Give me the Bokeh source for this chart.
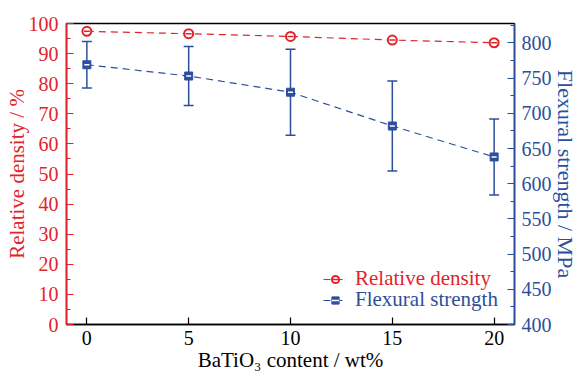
from bokeh.plotting import figure
from bokeh.models import (Range1d, LinearAxis, Whisker, ColumnDataSource, Legend, LegendItem,
                          TeeHead, FixedTicker)
from bokeh.embed import file_html
from bokeh.resources import INLINE

content = [0, 5, 10, 15, 20]
rel_density = [97.4, 96.6, 95.7, 94.5, 93.6]
flex_strength = [769, 753, 730, 682, 638]
flex_err = [33, 42, 61, 64, 54]

RED = "#e3232b"
BLUE = "#2c4f9d"
FONT = "Liberation Serif"

p = figure(width=580, height=376, output_backend="svg", toolbar_location=None,
           x_range=Range1d(-1, 21), y_range=Range1d(0, 100),
           min_border_left=66, min_border_right=63, min_border_top=23, min_border_bottom=52)
p.xgrid.visible = False
p.ygrid.visible = False
p.outline_line_color = "black"
p.outline_line_width = 1.5
p.background_fill_color = "white"
p.border_fill_color = "white"

p.extra_y_ranges = {"fs": Range1d(400, 827.6)}

src_rd = ColumnDataSource(dict(x=content, y=rel_density))
fl_upper = [v + e for v, e in zip(flex_strength, flex_err)]
fl_lower = [v - e for v, e in zip(flex_strength, flex_err)]
src_fs = ColumnDataSource(dict(x=content, y=flex_strength, upper=fl_upper, lower=fl_lower))

# error bars
wh = Whisker(source=src_fs, base="x", upper="upper", lower="lower", y_range_name="fs",
             line_color=BLUE, line_width=1.5,
             upper_head=TeeHead(size=10, line_color=BLUE, line_width=1.5),
             lower_head=TeeHead(size=10, line_color=BLUE, line_width=1.5))
p.add_layout(wh)

# relative density
rd_line = p.line("x", "y", source=src_rd, line_color=RED, line_width=1.2, line_dash="7 5")
rd_circ = p.scatter("x", "y", source=src_rd, marker="circle", size=9, fill_color="white",
                    line_color=RED, line_width=2)
rd_dash = p.scatter("x", "y", source=src_rd, marker="dash", size=6, line_color=RED, line_width=1.5)

# flexural strength
fs_line = p.line("x", "y", source=src_fs, y_range_name="fs", line_color=BLUE, line_width=1.2, line_dash="7 5")
fs_sq = p.scatter("x", "y", source=src_fs, y_range_name="fs", marker="square", size=8,
                  fill_color=BLUE, line_color=BLUE, line_width=1)
fs_dash = p.scatter("x", "y", source=src_fs, y_range_name="fs", marker="dash", size=5,
                    line_color="white", line_width=1.5)

# left axis
ya = p.yaxis[0]
ya.ticker = FixedTicker(ticks=list(range(0, 101, 10)), minor_ticks=list(range(5, 100, 10)))
ya.axis_label = "Relative density / %"
ya.axis_line_color = RED
ya.major_tick_line_color = RED
ya.minor_tick_line_color = RED
ya.major_label_text_color = RED
ya.axis_label_text_color = RED
ya.major_label_standoff = 8
ya.axis_label_standoff = -3
ya.axis_label_text_font_size = "21px"

# right axis
ra = LinearAxis(y_range_name="fs", axis_label="Flexural strength / MPa")
ra.ticker = FixedTicker(ticks=list(range(400, 801, 50)), minor_ticks=list(range(425, 826, 50)))
ra.axis_line_color = BLUE
ra.major_tick_line_color = BLUE
ra.minor_tick_line_color = BLUE
ra.major_label_text_color = BLUE
ra.axis_label_text_color = BLUE
ra.major_label_standoff = 7
ra.axis_label_standoff = -2
ra.axis_label_text_font_size = "22px"
p.add_layout(ra, "right")

# bottom axis
xa = p.xaxis[0]
xa.ticker = FixedTicker(ticks=content, minor_ticks=[])
xa.axis_label = "BaTiO\u2083 content / wt%"
xa.axis_line_color = "black"
xa.major_tick_line_color = "black"
xa.major_label_text_color = "black"
xa.axis_label_text_color = "black"
xa.major_label_standoff = 6
xa.axis_label_standoff = 0
xa.axis_label_text_font_size = "21px"

for ax in (ya, ra, xa):
    ax.axis_line_width = 1.5
    ax.major_tick_in = 7
    ax.major_tick_out = 0
    ax.minor_tick_in = 4
    ax.minor_tick_out = 0
    ax.major_tick_line_width = 1.2
    ax.minor_tick_line_width = 1.2
    ax.major_label_text_font = FONT
    ax.major_label_text_font_size = "20px"
    ax.axis_label_text_font = FONT
    ax.axis_label_text_font_style = "normal"

# legends (one per series so the text colour matches the series)
def make_legend(label, renderers, color, loc):
    lg = Legend(items=[LegendItem(label=label, renderers=renderers)], location=loc,
                label_text_font=FONT, label_text_font_size="21px", label_text_color=color,
                glyph_width=24, glyph_height=18, label_standoff=8, padding=0, margin=0,
                spacing=0, background_fill_alpha=0, border_line_alpha=0, label_height=18)
    p.add_layout(lg)

make_legend("Relative density", [rd_line, rd_circ, rd_dash], RED, (257, 33))
make_legend("Flexural strength", [fs_line, fs_sq, fs_dash], BLUE, (257, 12))

open("out.html", "w").write(file_html(p, INLINE))
